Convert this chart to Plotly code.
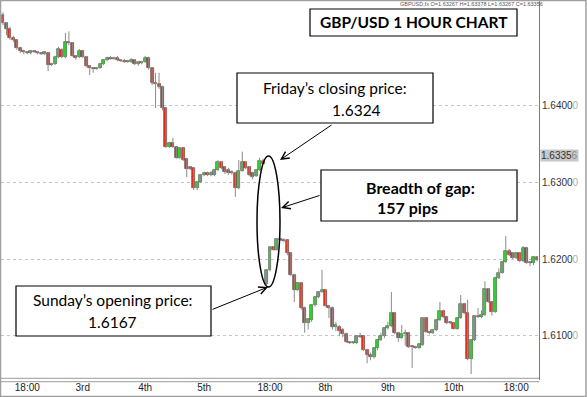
import plotly.graph_objects as go

# ---------------- data (GBP/USD, 1-hour bars) ----------------
opens = [
    1.6518, 1.6508, 1.6500, 1.6488, 1.6486, 1.6475, 1.6471, 1.6470, 1.6469, 1.6471,
    1.6470, 1.6469, 1.6467, 1.6469, 1.6454, 1.6454, 1.6464, 1.6473, 1.6464, 1.6483,
    1.6482, 1.6465, 1.6464, 1.6471, 1.6464, 1.6452, 1.6449, 1.6448, 1.6449, 1.6454,
    1.6460, 1.6462, 1.6461, 1.6462, 1.6460, 1.6458, 1.6458, 1.6457, 1.6460, 1.6454,
    1.6457, 1.6457, 1.6462, 1.6449, 1.6430, 1.6428, 1.6424, 1.6397, 1.6346, 1.6351,
    1.6346, 1.6332, 1.6345, 1.6331, 1.6320, 1.6319, 1.6293, 1.6301, 1.6310, 1.6312,
    1.6310, 1.6310, 1.6316, 1.6327, 1.6320, 1.6316, 1.6314, 1.6312, 1.6293, 1.6315,
    1.6327, 1.6320, 1.6312, 1.6308, 1.6316, 1.6328,
    1.6167, 1.6186, 1.6216, 1.6212, 1.6226, 1.6225, 1.6225, 1.6208, 1.6179, 1.6160,
    1.6169, 1.6136, 1.6117, 1.6121, 1.6140, 1.6151, 1.6157, 1.6160, 1.6139, 1.6136,
    1.6111, 1.6111, 1.6108, 1.6102, 1.6092, 1.6091, 1.6091, 1.6100, 1.6100, 1.6081,
    1.6075, 1.6072, 1.6084, 1.6094, 1.6100, 1.6110, 1.6113, 1.6130, 1.6104, 1.6097,
    1.6102, 1.6104, 1.6087, 1.6085, 1.6084, 1.6088, 1.6123, 1.6105, 1.6104, 1.6108,
    1.6121, 1.6132, 1.6124, 1.6118, 1.6117, 1.6109, 1.6123, 1.6141, 1.6130, 1.6070,
    1.6094, 1.6126, 1.6124, 1.6127, 1.6161, 1.6144, 1.6131, 1.6175, 1.6182, 1.6196,
    1.6211, 1.6208, 1.6201, 1.6208, 1.6198, 1.6214, 1.6196, 1.6195, 1.6203,
]
highs = [
    1.6522, 1.6509, 1.6503, 1.6491, 1.6487, 1.6477, 1.6473, 1.6471, 1.6473, 1.6473,
    1.6471, 1.6470, 1.6471, 1.6470, 1.6456, 1.6465, 1.6477, 1.6475, 1.6495, 1.6497,
    1.6483, 1.6466, 1.6474, 1.6473, 1.6465, 1.6453, 1.6450, 1.6450, 1.6456, 1.6461,
    1.6464, 1.6465, 1.6464, 1.6465, 1.6461, 1.6461, 1.6460, 1.6462, 1.6461, 1.6458,
    1.6458, 1.6465, 1.6464, 1.6450, 1.6443, 1.6443, 1.6426, 1.6398, 1.6353, 1.6358,
    1.6347, 1.6346, 1.6346, 1.6332, 1.6321, 1.6320, 1.6302, 1.6311, 1.6314, 1.6314,
    1.6315, 1.6317, 1.6329, 1.6328, 1.6321, 1.6319, 1.6316, 1.6314, 1.6329, 1.6340,
    1.6328, 1.6321, 1.6314, 1.6317, 1.6332, 1.6331,
    1.6187, 1.6217, 1.6217, 1.6227, 1.6227, 1.6227, 1.6226, 1.6209, 1.6181, 1.6170,
    1.6170, 1.6138, 1.6123, 1.6141, 1.6152, 1.6158, 1.6186, 1.6161, 1.6140, 1.6138,
    1.6118, 1.6114, 1.6110, 1.6104, 1.6093, 1.6093, 1.6101, 1.6104, 1.6101, 1.6083,
    1.6078, 1.6085, 1.6096, 1.6104, 1.6111, 1.6118, 1.6157, 1.6131, 1.6105, 1.6114,
    1.6108, 1.6105, 1.6088, 1.6087, 1.6090, 1.6124, 1.6124, 1.6106, 1.6109, 1.6122,
    1.6144, 1.6134, 1.6126, 1.6119, 1.6118, 1.6124, 1.6153, 1.6143, 1.6147, 1.6095,
    1.6127, 1.6136, 1.6133, 1.6171, 1.6162, 1.6145, 1.6177, 1.6188, 1.6198, 1.6230,
    1.6213, 1.6209, 1.6209, 1.6209, 1.6217, 1.6216, 1.6197, 1.6204, 1.6204,
]
lows = [
    1.6505, 1.6492, 1.6486, 1.6483, 1.6473, 1.6469, 1.6467, 1.6467, 1.6467, 1.6469,
    1.6467, 1.6466, 1.6466, 1.6445, 1.6452, 1.6453, 1.6462, 1.6462, 1.6462, 1.6479,
    1.6464, 1.6460, 1.6462, 1.6462, 1.6450, 1.6440, 1.6443, 1.6447, 1.6448, 1.6453,
    1.6458, 1.6460, 1.6460, 1.6458, 1.6457, 1.6456, 1.6456, 1.6456, 1.6453, 1.6452,
    1.6454, 1.6456, 1.6447, 1.6427, 1.6397, 1.6422, 1.6394, 1.6345, 1.6345, 1.6345,
    1.6331, 1.6331, 1.6328, 1.6307, 1.6316, 1.6290, 1.6290, 1.6299, 1.6308, 1.6308,
    1.6308, 1.6308, 1.6315, 1.6317, 1.6311, 1.6310, 1.6310, 1.6281, 1.6291, 1.6314,
    1.6317, 1.6308, 1.6304, 1.6307, 1.6315, 1.6324,
    1.6166, 1.6184, 1.6211, 1.6211, 1.6224, 1.6222, 1.6205, 1.6178, 1.6144, 1.6158,
    1.6134, 1.6104, 1.6108, 1.6118, 1.6138, 1.6149, 1.6156, 1.6138, 1.6123, 1.6108,
    1.6106, 1.6100, 1.6098, 1.6091, 1.6089, 1.6089, 1.6089, 1.6097, 1.6080, 1.6064,
    1.6068, 1.6070, 1.6081, 1.6093, 1.6097, 1.6108, 1.6111, 1.6102, 1.6092, 1.6096,
    1.6087, 1.6084, 1.6058, 1.6083, 1.6083, 1.6087, 1.6104, 1.6102, 1.6102, 1.6106,
    1.6119, 1.6123, 1.6115, 1.6115, 1.6108, 1.6108, 1.6122, 1.6128, 1.6068, 1.6050,
    1.6093, 1.6123, 1.6123, 1.6126, 1.6143, 1.6126, 1.6130, 1.6174, 1.6181, 1.6195,
    1.6204, 1.6200, 1.6200, 1.6196, 1.6196, 1.6194, 1.6191, 1.6192, 1.6197,
]
closes = [
    1.6508, 1.6500, 1.6488, 1.6486, 1.6475, 1.6471, 1.6470, 1.6469, 1.6471, 1.6470,
    1.6469, 1.6467, 1.6470, 1.6453, 1.6453, 1.6464, 1.6474, 1.6464, 1.6483, 1.6482,
    1.6465, 1.6462, 1.6471, 1.6464, 1.6452, 1.6449, 1.6448, 1.6449, 1.6454, 1.6460,
    1.6462, 1.6461, 1.6462, 1.6460, 1.6458, 1.6457, 1.6457, 1.6460, 1.6454, 1.6457,
    1.6456, 1.6462, 1.6449, 1.6430, 1.6428, 1.6424, 1.6397, 1.6346, 1.6351, 1.6346,
    1.6332, 1.6345, 1.6329, 1.6317, 1.6317, 1.6293, 1.6301, 1.6310, 1.6312, 1.6310,
    1.6312, 1.6316, 1.6327, 1.6319, 1.6314, 1.6312, 1.6312, 1.6293, 1.6315, 1.6327,
    1.6319, 1.6310, 1.6307, 1.6316, 1.6328, 1.6324,
    1.6186, 1.6216, 1.6212, 1.6226, 1.6225, 1.6224, 1.6208, 1.6179, 1.6160, 1.6169,
    1.6136, 1.6117, 1.6122, 1.6140, 1.6151, 1.6157, 1.6160, 1.6139, 1.6136, 1.6111,
    1.6114, 1.6106, 1.6102, 1.6092, 1.6091, 1.6092, 1.6100, 1.6098, 1.6081, 1.6075,
    1.6072, 1.6084, 1.6094, 1.6100, 1.6110, 1.6113, 1.6130, 1.6104, 1.6097, 1.6102,
    1.6104, 1.6085, 1.6085, 1.6084, 1.6089, 1.6123, 1.6105, 1.6104, 1.6108, 1.6121,
    1.6132, 1.6124, 1.6117, 1.6117, 1.6109, 1.6123, 1.6141, 1.6130, 1.6070, 1.6094,
    1.6126, 1.6124, 1.6127, 1.6161, 1.6144, 1.6131, 1.6175, 1.6182, 1.6196, 1.6211,
    1.6205, 1.6201, 1.6208, 1.6198, 1.6214, 1.6195, 1.6195, 1.6203, 1.6199,
]
bars = list(range(len(closes)))

x_tick_bars = [7, 23, 41, 58, 77, 93, 111, 130, 148]
x_tick_labels = ["18:00", "3rd", "4th", "5th", "18:00", "8th", "9th", "10th", "18:00"]
y_tick_vals = [1.61, 1.62, 1.63, 1.64]
y_tick_labels = ["1.6100", "1.6200", "1.6300", "1.6400"]
current_price = 1.63356
header_text = "GBPUSD,fx O=1.63267 H=1.63378 L=1.63267 C=1.63356"
friday_close = 1.6324
sunday_open = 1.6167
gap_pips = 157

# ---------------- layout helpers (pixel -> paper) ----------------
W, H = 587, 397
ML, MR, MT, MB = 1, 48, 1, 17
PW, PH = W - ML - MR, H - MT - MB


def px(x):
    return (x - ML) / PW


def py(y):
    return (H - MB - y) / PH


UP, DOWN = "#1ee61e", "#f22a14"

# wicks: one vertical segment per bar (low -> high)
wick_x, wick_y = [], []
for i, lo, hi in zip(bars, lows, highs):
    wick_x += [i, i, None]
    wick_y += [lo, hi, None]

fig = go.Figure()
fig.add_trace(go.Scatter(x=wick_x, y=wick_y, mode="lines",
                         line=dict(color="#8a8a8a", width=1),
                         hoverinfo="skip", showlegend=False))
# bodies: bars from open to close
fig.add_trace(go.Bar(
    x=bars, base=[min(o, c) for o, c in zip(opens, closes)],
    y=[max(abs(c - o), 0.00008) for o, c in zip(opens, closes)],
    width=0.86,
    marker=dict(color=[UP if c >= o else DOWN for o, c in zip(opens, closes)],
                line=dict(color="#5a5a5a", width=0.7)),
    hoverinfo="skip", showlegend=False,
))

FONT = "Lato, 'Open Sans', sans-serif"
AXF = "'Liberation Sans', Arial, sans-serif"

shapes = []
# double bottom line of the time axis
for yy in (378.3, 381.7):
    shapes.append(dict(type="line", xref="paper", yref="paper", x0=px(0), x1=px(539.3),
                       y0=py(yy), y1=py(yy), line=dict(color="#9a9a9a", width=1)))
# outer frame
shapes.append(dict(type="rect", xref="paper", yref="paper", x0=px(0.5), x1=px(586),
                   y0=py(396.5), y1=py(0.5), line=dict(color="#a0a0a0", width=1.5)))
# text boxes
boxes = [(310, 9, 517, 36), (237, 73, 433, 123), (321, 170, 517, 221), (16, 286, 211, 336)]
for (x0, y0, x1, y1) in boxes:
    shapes.append(dict(type="rect", xref="paper", yref="paper", x0=px(x0), x1=px(x1),
                       y0=py(y1), y1=py(y0), fillcolor="white",
                       line=dict(color="black", width=1.2), layer="above"))
# ellipse around the gap
shapes.append(dict(type="circle", xref="paper", yref="paper", x0=px(257), x1=px(280),
                   y0=py(287), y1=py(156), line=dict(color="black", width=1.5), layer="above"))

ann = []


def text(xc, yc, t, size=15.5, bold=False):
    ann.append(dict(xref="paper", yref="paper", x=px(xc), y=py(yc), text=f"<b>{t}</b>" if bold else t,
                    showarrow=False, xanchor="center", yanchor="middle",
                    font=dict(family=FONT, size=size, color="black")))


text(414, 22.5, "GBP/USD 1 HOUR CHART", size=15.5, bold=True)
text(335, 88, "Friday’s closing price:")
text(356, 110, f"{friday_close:.4f}")
text(420, 187, "Breadth of gap:", size=16, bold=True)
text(407, 207, f"{gap_pips} pips", size=16, bold=True)
text(112, 300, "Sunday’s opening price:")
text(112.5, 322, f"{sunday_open:.4f}")


def arrow(tip, tail):
    ann.append(dict(xref="paper", yref="paper", x=px(tip[0]), y=py(tip[1]), text="",
                    showarrow=True, axref="pixel", ayref="pixel",
                    ax=tail[0] - tip[0], ay=tail[1] - tip[1],
                    arrowhead=5, arrowsize=1.5, arrowwidth=1, arrowcolor="black"))


arrow((280, 160), (333, 124))
arrow((281, 208), (321, 195))
arrow((268, 287), (211, 310))

# header line
ann.append(dict(xref="paper", yref="paper", x=px(398), y=py(4), text=header_text,
                showarrow=False, xanchor="left", yanchor="middle",
                font=dict(family=AXF, size=5.5, color="#555555")))
# current price marker
cp = f"{current_price:.5f}"
ann.append(dict(xref="paper", yref="y", x=px(540), y=current_price,
                text=f"{cp[:-1]}<span style='color:#8a8a8a'>{cp[-1]}</span>",
                showarrow=False, xanchor="left", yanchor="middle", bgcolor="#c8c8c8",
                borderpad=0, font=dict(family=AXF, size=10, color="#333333")))

fig.update_layout(
    width=W, height=H, margin=dict(l=ML, r=MR, t=MT, b=MB),
    paper_bgcolor="white", plot_bgcolor="white",
    shapes=shapes, annotations=ann, bargap=0,
    xaxis=dict(range=[-0.5768, 154.578], showgrid=False, zeroline=False,
               tickvals=x_tick_bars, ticktext=x_tick_labels, ticks="",
               tickfont=dict(family=AXF, size=10, color="#222222"),
               showline=False, fixedrange=True),
    yaxis=dict(range=[1.604222, 1.653657], side="right", showgrid=True,
               gridcolor="#c4c4c4", griddash="dot", gridwidth=1, zeroline=False,
               tickvals=y_tick_vals,
               ticktext=[f"{t}<span style='color:#b0b0b0'>0</span>" for t in y_tick_labels],
               ticks="", tickfont=dict(family=AXF, size=10, color="#333333"),
               showline=True, linecolor="#7a7a7a", linewidth=1, fixedrange=True),
)

fig.write_html("out.html", config={"displayModeBar": False},
               post_script="document.body.style.margin='0';document.body.style.padding='0';")
